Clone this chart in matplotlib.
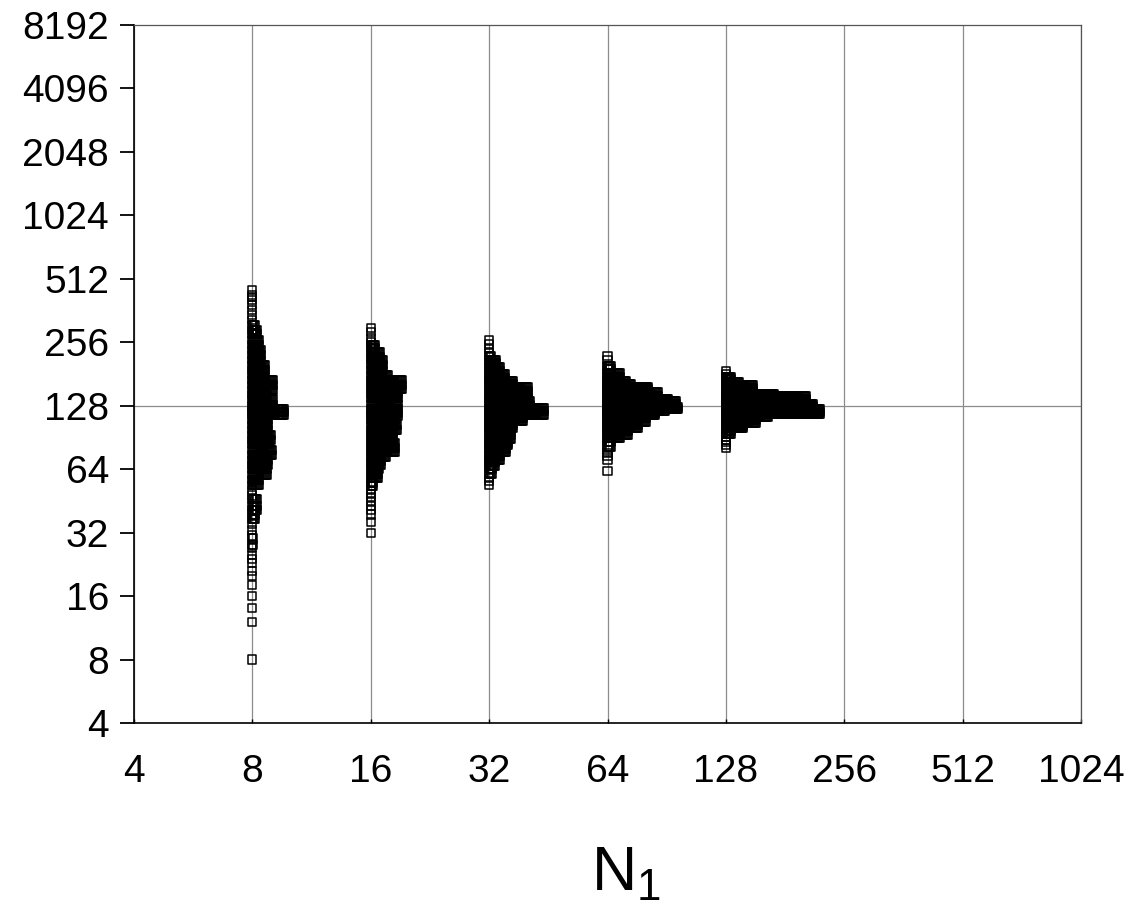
import numpy as np
import matplotlib
matplotlib.use("Agg")
import matplotlib.pyplot as plt

plt.rcParams['font.family'] = ['Liberation Sans', 'DejaVu Sans']
plt.rcParams['mathtext.fontset'] = 'custom'
plt.rcParams['mathtext.rm'] = 'Liberation Sans'

# ── data: observed N2 values per N1 and how many runs gave each value ────────
N1_GROUPS = [8, 16, 32, 64, 128]

N2_8 = [454, 430, 420, 407, 386, 365, 346, 327,
        310, 293, 280, 263, 249, 236, 223, 211, 200, 190,
        180, 170, 161, 152, 144, 137, 129, 124, 120, 116,
        110, 104, 98, 93, 88, 84, 79, 75, 71, 67,
        64, 60, 57, 54, 51, 48, 46, 43, 41, 39,
        37, 35, 33, 31, 30, 28, 27, 25, 24, 23,
        21, 20, 18, 16, 14, 12, 8]
CNT_8 = [1, 1, 1, 1, 1, 1, 1, 1,
         4, 6, 6, 8, 8, 10, 10, 10, 14, 14,
         14, 22, 22, 22, 16, 22, 22, 32, 32, 32,
         17, 17, 17, 20, 20, 18, 21, 21, 17, 17,
         16, 16, 8, 8, 1, 1, 6, 6, 6, 4,
         4, 1, 1, 1, 2, 2, 1, 1, 1, 1,
         1, 1, 1, 1, 1, 1, 1]

N2_16 = [300, 285, 268, 256, 249, 240, 230, 217, 211, 200, 190, 178,
         170, 161, 154, 146, 139, 131, 124, 118, 114, 110, 104, 98,
         94, 89, 85, 81, 77, 73, 70, 67, 64, 61, 58, 55, 53,
         51, 49, 47, 45, 43, 41, 39, 36, 32]
CNT_16 = [1, 1, 1, 1, 5, 5, 10, 10, 13, 13, 13, 18,
          32, 32, 32, 28, 28, 28, 28, 28, 28, 25, 27, 27,
          23, 23, 25, 25, 25, 16, 11, 11, 9, 8, 8, 3, 3,
          1, 1, 1, 1, 1, 1, 1, 1, 1]

N2_32 = [263, 250, 238, 228, 220, 211, 203, 195, 187, 180, 174,
         168, 162, 157, 150, 144, 139, 134, 129, 125, 121, 116,
         112, 108, 104, 100, 97, 93, 89, 85, 83, 80, 77,
         74, 71, 69, 66, 64, 61, 58, 56, 54]
CNT_32 = [1, 1, 1, 1, 3, 8, 8, 12, 12, 17, 17,
          25, 25, 40, 40, 40, 40, 42, 42, 56, 56, 56,
          35, 35, 25, 25, 23, 23, 23, 20, 20, 18, 18,
          12, 12, 7, 7, 4, 4, 1, 1, 1]

N2_64 = [221, 211, 198, 191, 182, 175, 168, 163, 157, 153, 148, 142,
         138, 134, 130, 126, 124, 121, 118, 116, 112, 107, 104, 100,
         97, 93, 90, 86, 82, 79, 76, 74, 71, 63]
CNT_64 = [1, 1, 4, 4, 13, 13, 19, 24, 41, 41, 51, 51,
          61, 69, 69, 71, 71, 58, 48, 48, 39, 39, 31, 31,
          21, 21, 13, 4, 4, 1, 1, 1, 1, 1]

N2_128 = [186, 180, 176, 171, 166, 161, 156, 151, 146, 143, 138, 134,
          131, 127, 124, 120, 117, 113, 109, 106, 103, 100, 97, 94,
          91, 88, 86, 83, 81]
CNT_128 = [1, 1, 6, 6, 14, 28, 28, 28, 49, 81, 81, 81,
           88, 88, 95, 95, 95, 43, 31, 31, 18, 18, 6, 6,
           1, 1, 1, 1, 1]

N2_VALUES = [N2_8, N2_16, N2_32, N2_64, N2_128]
COUNTS = [CNT_8, CNT_16, CNT_32, CNT_64, CNT_128]

X_TICKS = [4, 8, 16, 32, 64, 128, 256, 512, 1024]
Y_TICKS = [4, 8, 16, 32, 64, 128, 256, 512, 1024, 2048, 4096, 8192]

# repeated values are stacked sideways, one small log-step per repeat
DOT_SHIFT = 2 ** (1 / 118.0)

fig = plt.figure(figsize=(11.39, 9.09), dpi=100)
ax = fig.add_axes([134 / 1139, 1 - 723 / 909, 947 / 1139, 698 / 909])
ax.set_xscale('log', base=2)
ax.set_yscale('log', base=2)
ax.set_xlim(4, 1024)
ax.set_ylim(4, 8192)

xs, ys = [], []
for n1, vals, cnts in zip(N1_GROUPS, N2_VALUES, COUNTS):
    for v, c in zip(vals, cnts):
        xs.extend(n1 * DOT_SHIFT ** np.arange(c))
        ys.extend([v] * c)

ax.scatter(xs, ys, marker='s', s=34, facecolors='none',
           edgecolors='black', linewidths=1.1, zorder=3)

# vertical grid at every tick, single reference line at 128
ax.set_xticks(X_TICKS)
ax.set_xticklabels([str(t) for t in X_TICKS])
ax.set_yticks(Y_TICKS)
ax.set_yticklabels([str(t) for t in Y_TICKS])
ax.minorticks_off()
ax.xaxis.grid(True, color='#8c8c8c', lw=0.9)
ax.axhline(128, color='#8c8c8c', lw=0.9, zorder=1)

ax.tick_params(axis='y', direction='out', length=10, width=1.3, pad=8,
               labelsize=28)
ax.tick_params(axis='x', direction='in', length=3, width=1.0, pad=22,
               labelsize=28)
for side in ['left', 'bottom']:
    ax.spines[side].set_color('black')
    ax.spines[side].set_linewidth(1.2)
for side in ['top', 'right']:
    ax.spines[side].set_color('#555555')
    ax.spines[side].set_linewidth(0.9)

ax.set_xlabel('N$_1$', fontsize=45)
ax.xaxis.set_label_coords(0.52, -0.175)

fig.savefig('out.png', dpi=100)
